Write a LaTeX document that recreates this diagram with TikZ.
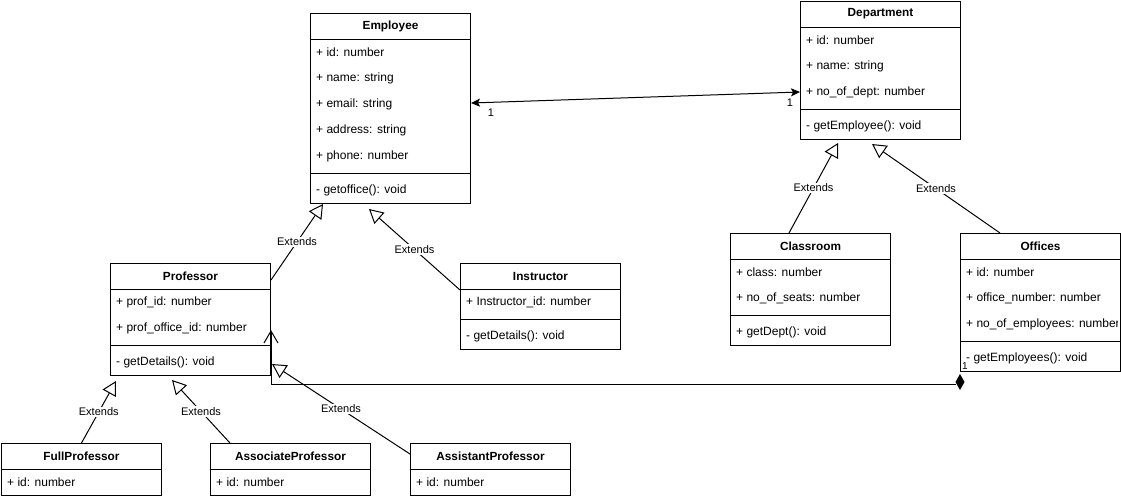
\documentclass[tikz,border=0pt]{standalone}
\usepackage{fontspec}
\setmainfont{Liberation Sans}
\usetikzlibrary{arrows.meta,calc}
\tikzset{
 box/.style={draw, line width=1pt, fill=white, minimum width=160pt, inner sep=0pt, anchor=north west},
 ttl/.style={font=\fontsize{11.8}{13}\selectfont\bfseries, inner sep=0pt},
 attr/.style={font=\fontsize{12}{13}\selectfont, anchor=west, inner sep=0pt},
 lbl/.style={font=\fontsize{11}{13}\selectfont, fill=white, inner sep=1pt},
 mult/.style={font=\fontsize{11}{13}\selectfont, inner sep=0pt},
 ext/.style={line width=1pt, -{Triangle[open, length=14pt, width=15pt, fill=white]}},
 conn/.style={line width=1pt},
}
\newcommand{\klass}[5]{%
 \node[box, minimum height=#4pt] (#1) at (#2pt,-#3pt) {};
 \node[ttl] (#1-t) at ($(#1.north)+(0,-13pt)$) {#5};
 \draw[conn] ($(#1.north west)+(0,-26pt)$) -- ($(#1.north east)+(0,-26pt)$);}
\newcommand{\krow}[4]{\node[attr] (#1-#2) at ($(#1.north west)+(6pt,-#3pt)$) {#4};}
\newcommand{\ksep}[2]{\draw[conn] ($(#1.north west)+(0,-#2pt)$) -- ($(#1.north east)+(0,-#2pt)$);}
\begin{document}
\begin{tikzpicture}[x=1pt,y=1pt]
\useasboundingbox (0,0) rectangle (1121,-499);
% Employee
\klass{emp}{310}{13}{190}{Employee}
\krow{emp}{a1}{39}{+ id: number}
\krow{emp}{a2}{65}{+ name: string}
\krow{emp}{a3}{91}{+ email: string}
\krow{emp}{a4}{117}{+ address: string}
\krow{emp}{a5}{143}{+ phone: number}
\ksep{emp}{160}
\krow{emp}{m1}{177}{- getoffice(): void}
% Department
\klass{dep}{800}{1}{138}{Department}
\krow{dep}{a1}{39}{+ id: number}
\krow{dep}{a2}{65}{+ name: string}
\krow{dep}{a3}{91}{+ no\_of\_dept: number}
\ksep{dep}{108}
\krow{dep}{m1}{125}{- getEmployee(): void}
% Professor
\klass{prof}{110}{263}{112}{Professor}
\krow{prof}{a1}{39}{+ prof\_id: number}
\krow{prof}{a2}{65}{+ prof\_office\_id: number}
\ksep{prof}{82}
\krow{prof}{m1}{99}{- getDetails(): void}
% Instructor
\klass{ins}{460}{263}{86}{Instructor}
\krow{ins}{a1}{39}{+ Instructor\_id: number}
\ksep{ins}{56}
\krow{ins}{m1}{73}{- getDetails(): void}
% Classroom
\klass{cls}{730}{233}{112}{Classroom}
\krow{cls}{a1}{39}{+ class: number}
\krow{cls}{a2}{65}{+ no\_of\_seats: number}
\ksep{cls}{82}
\krow{cls}{m1}{99}{+ getDept(): void}
% Offices
\klass{off}{960}{233}{138}{Offices}
\begin{scope}
\clip (off.north west) rectangle ($(off.south east)+(-4pt,0)$);
\krow{off}{a1}{39}{+ id: number}
\krow{off}{a2}{65}{+ office\_number: number}
\krow{off}{a3}{91}{+ no\_of\_employees: number}
\end{scope}
\ksep{off}{108}
\krow{off}{m1}{125}{- getEmployees(): void}
% Sub-professors
\klass{fp}{1}{443}{52}{FullProfessor}
\krow{fp}{a1}{39}{+ id: number}
\klass{ap}{210}{443}{52}{AssociateProfessor}
\krow{ap}{a1}{39}{+ id: number}
\klass{asp}{410}{443}{52}{AssistantProfessor}
\krow{asp}{a1}{39}{+ id: number}
% Generalisations
\draw[ext] ($(prof.north east)+(0,-17pt)$) -- node[lbl] (l1) {Extends} ($(emp.south west)+(13pt,0)$);
\draw[ext] ($(ins.north west)+(0,-27pt)$) -- node[lbl] (l2) {Extends} ($(emp.south west)+(59pt,-5pt)$);
\draw[ext] (fp.north) -- node[lbl] (l3) {Extends} ($(prof.south west)+(6pt,-5pt)$);
\draw[ext] ($(ap.north west)+(20pt,0)$) -- node[lbl] (l4) {Extends} ($(prof.south west)+(62pt,-4pt)$);
\draw[ext] ($(asp.north west)+(0,-11pt)$) -- node[lbl] (l5) {Extends} ($(prof.south east)+(1pt,12pt)$);
\draw[ext] ($(cls.north west)+(59pt,0)$) -- node[lbl] (l6) {Extends} ($(dep.south west)+(38pt,-3pt)$);
\draw[ext] ($(off.north west)+(40pt,0)$) -- node[lbl] (l7) {Extends} ($(dep.south west)+(72pt,-4pt)$);
% Association
\draw[conn, {Stealth[length=9pt,width=8pt,inset=2pt]}-{Stealth[length=9pt,width=8pt,inset=2pt]}]
  ($(emp.north east)+(0,-90pt)$) -- ($(dep.north west)+(0,-91pt)$);
\node[mult] (m1) at (491,-113) {1};
\node[mult] (m2) at (790,-103) {1};
% Composition
\fill ($(off.south west)+(0,-2pt)$) -- ++(4.5,-8) -- ++(-4.5,-8) -- ++(-4.5,8) -- cycle;
\draw[conn, -{Straight Barb[length=12pt,width=14pt]}] ($(off.south west)+(-4.5pt,-12pt)$) -| ($(prof.north east)+(0,-67pt)$);
\node[mult, font=\fontsize{10}{11}\selectfont] (m3) at (965,-366) {1};
\end{tikzpicture}
\end{document}
